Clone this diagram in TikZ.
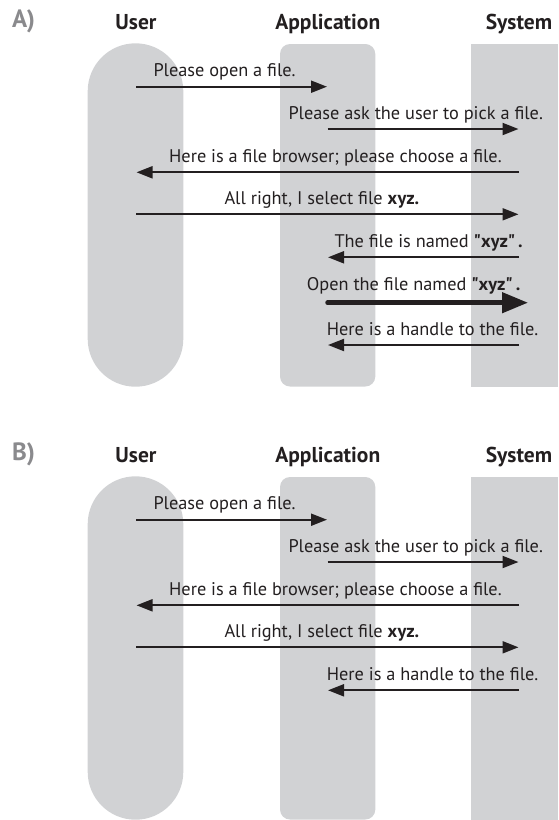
\documentclass[tikz,border=0pt]{standalone}
\usepackage{fontspec}
\setmainfont{PT Sans}[Ligatures=TeXOff]
\usetikzlibrary{arrows.meta}
\definecolor{lanegray}{RGB}{209,210,212}
\definecolor{ink}{RGB}{35,31,32}
\definecolor{tagcolor}{RGB}{138,138,141}
\tikzset{
  lane/.style={fill=lanegray},
  msg/.style={anchor=base west,inner sep=0pt,text=ink,font=\fontsize{18.3}{20}\selectfont},
  head/.style={anchor=base,inner sep=0pt,text=ink,font=\fontsize{21.5}{24}\selectfont\bfseries},
  tagtext/.style={anchor=base west,inner sep=0pt,text=tagcolor,font=\fontsize{25}{28}\selectfont\bfseries},
  call/.style={draw=ink,line width=2pt,-{Triangle[length=16pt,width=12pt]}},
  bigcall/.style={draw=ink,line width=4.5pt,line cap=round,-{Triangle[length=26pt,width=20pt]}},
}
\newcommand{\xyz}{\textbf{"xyz"\,.}}

\begin{document}
\begin{tikzpicture}[x=1pt,y=1pt]
\useasboundingbox (0,0) rectangle (558,-820);
% lanes and headers, same for both panels
\foreach \p/\dy in {A/0,B/433}{
  \begin{scope}[yshift=-\dy pt]
    \fill[lane,rounded corners=47.8pt] (87.7,-43.3) rectangle (183.3,-386.7);
    \fill[lane,rounded corners=10pt] (280,-44) rectangle (375.3,-386.5);
    \fill[lane] (471,-44) rectangle (558,-386.5);
    \node[tagtext] (tag\p) at (12,-27) {\p)};
    \node[head] (user\p) at (136,-29) {User};
    \node[head] (app\p) at (327.8,-29) {Application};
    \node[head] (sys\p) at (519,-29) {System};
  \end{scope}
}
% panel A messages
\foreach \i/\y/\xa/\xb/\tx/\txt in {
1/86.7/136/327/153.3/{Please open a file.},
2/129/327.5/518.5/288.3/{Please ask the user to pick a file.},
3/172.3/519/136.5/169/{Here is a file browser; please choose a file.},
4/214.3/136/518.5/224.3/{All right, I select file \textbf{xyz.}},
5/257.3/519/328/334.3/{The file is named \xyz},
7/345/519/328/326.7/{Here is a handle to the file.}}{
  \coordinate (sA\i) at (\xa,-\y);
  \coordinate (eA\i) at (\xb,-\y);
  \node[msg] (mA\i) at (\tx,-\y+10) {\txt};
  \draw[call] (sA\i) -- (eA\i);
}
\coordinate (sA6) at (327.5,-302.7);
\coordinate (eA6) at (528,-302.7);
\node[msg] (mA6) at (306.7,-290.2) {Open the file named \xyz};
\draw[bigcall] (sA6) -- (eA6);
% panel B messages
\foreach \i/\y/\xa/\xb/\tx/\txt in {
1/86.7/136/327/153.3/{Please open a file.},
2/129/327.5/518.5/288.3/{Please ask the user to pick a file.},
3/172.3/519/136.5/169/{Here is a file browser; please choose a file.},
4/214.3/136/518.5/224.3/{All right, I select file \textbf{xyz.}},
5/257.3/519/328/326.7/{Here is a handle to the file.}}{
  \coordinate (sB\i) at (\xa,-\y-433);
  \coordinate (eB\i) at (\xb,-\y-433);
  \node[msg] (mB\i) at (\tx,-\y-423) {\txt};
  \draw[call] (sB\i) -- (eB\i);
}
\end{tikzpicture}
\end{document}
